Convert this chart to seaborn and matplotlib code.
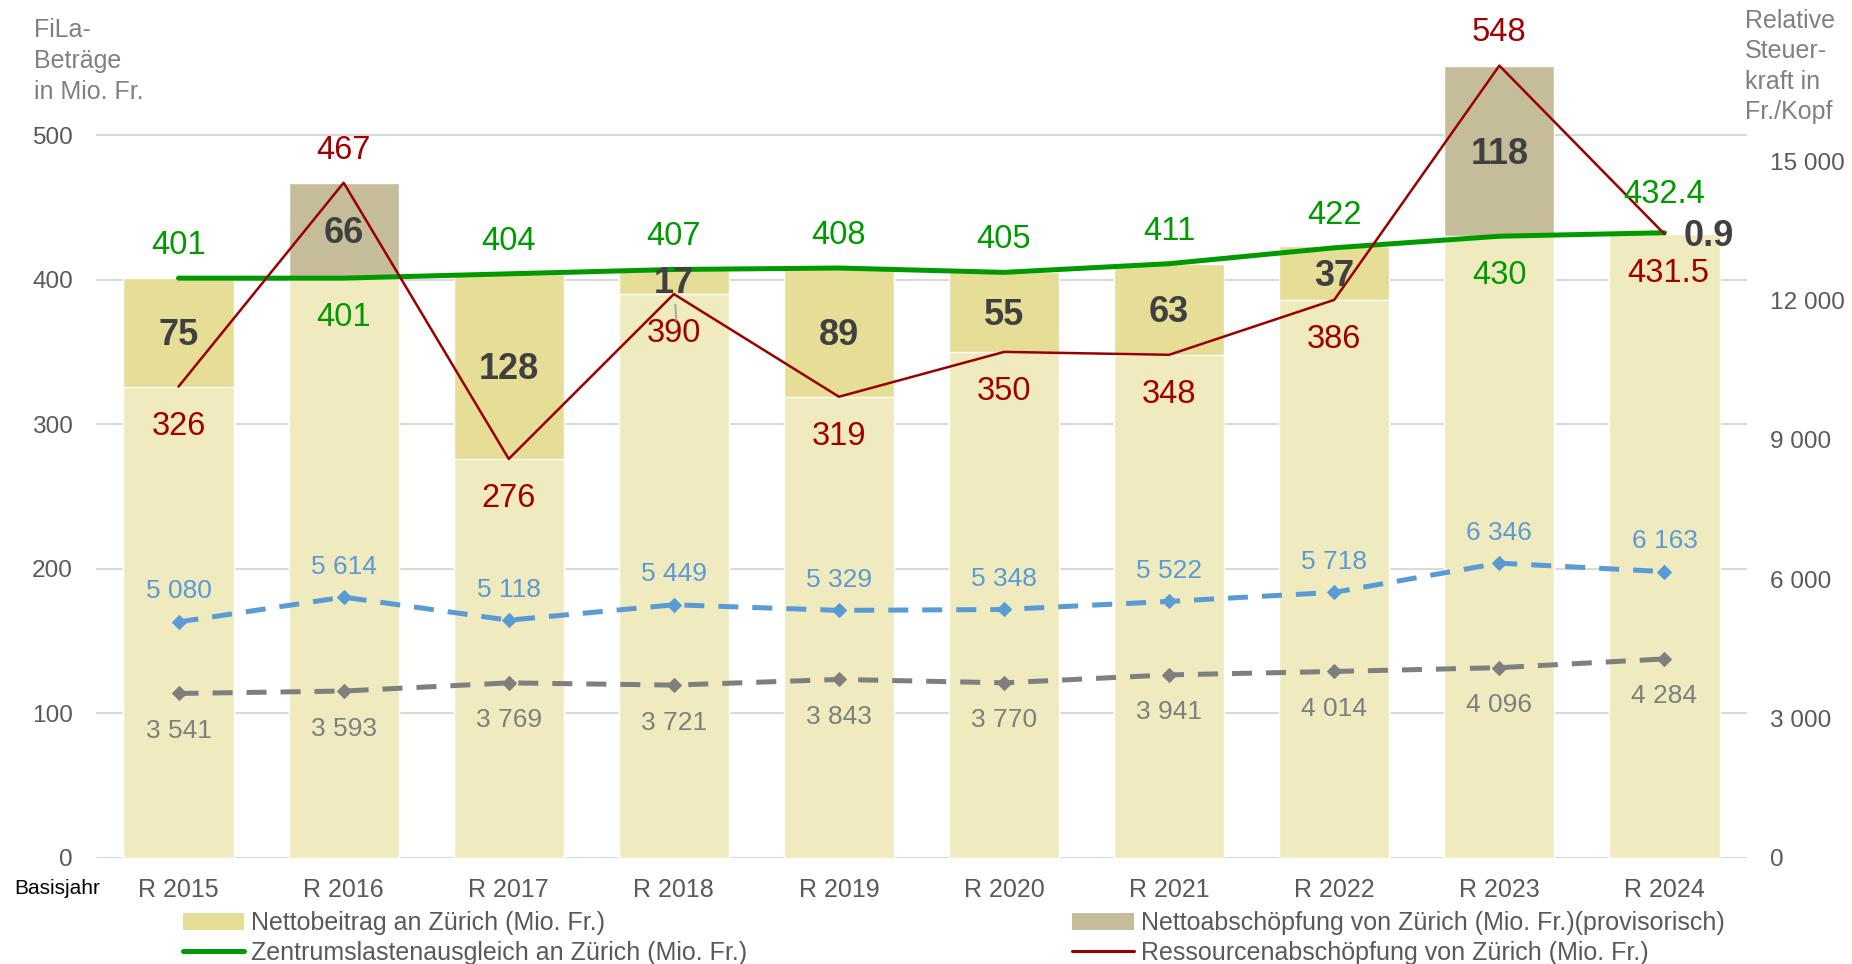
import numpy as np
import matplotlib
matplotlib.use("Agg")
import matplotlib.pyplot as plt
import seaborn as sns
from matplotlib.patches import Patch
from matplotlib.lines import Line2D

# ---------------- data ----------------
years = ["R 2015", "R 2016", "R 2017", "R 2018", "R 2019",
         "R 2020", "R 2021", "R 2022", "R 2023", "R 2024"]
zentrumslasten = [401, 401, 404, 407, 408, 405, 411, 422, 430, 432.4]
ressourcen = [326, 467, 276, 390, 319, 350, 348, 386, 548, 431.5]
nettobeitrag = [75, 0, 128, 17, 89, 55, 63, 37, 0, 0]
nettoabschoepfung = [0, 66, 0, 0, 0, 0, 0, 0, 118, 0.9]
steuerkraft_blau = [5080, 5614, 5118, 5449, 5329, 5348, 5522, 5718, 6346, 6163]
steuerkraft_grau = [3541, 3593, 3769, 3721, 3843, 3770, 3941, 4014, 4096, 4284]
left_ticks = [0, 100, 200, 300, 400, 500]
right_ticks = [0, 3000, 6000, 9000, 12000, 15000]

# ---------------- style ----------------
sns.set_theme(style="white")
plt.rcParams["font.family"] = ["Liberation Sans", "DejaVu Sans"]

C_LIGHT = "#F0EBBE"
C_BEITRAG = "#E6DE96"
C_ABSCH = "#C5BD99"
C_GREEN = "#009A00"
C_RED = "#990000"
C_RED_T = "#A00000"
C_BLUE = "#5B9BD5"
C_GRAY = "#7F7F7F"
C_DARK = "#404040"
C_TICK = "#595959"

FS_TICK = 17.6
FS_CAT = 18
FS_VAL = 23.5
FS_BOLD = 26
FS_SMALL = 19
FS_TITLE = 18
FS_LEG = 18

W, H = 1852, 964
fig = plt.figure(figsize=(W / 100, H / 100), dpi=100, facecolor="white")
y0, ytop = 858, 62.7
ax = fig.add_axes([96 / W, 1 - y0 / H, (1747 - 96) / W, (y0 - ytop) / H])
ax2 = ax.twinx()

idx = np.arange(len(years))
zla = np.array(zentrumslasten, dtype=float)
ra = np.array(ressourcen, dtype=float)
nb = np.array(nettobeitrag, dtype=float)
na = np.array(nettoabschoepfung, dtype=float)
base = np.minimum(zla, ra)
top = base + nb + na
seg_colors = [C_BEITRAG if b > 0 else C_ABSCH for b in nb]

ax.set_axisbelow(True)
ax.yaxis.grid(True, color="#D9D9D9", lw=1.5)
ax.xaxis.grid(False)

# stacked bars: full height first (segment colour), then base on top
sns.barplot(x=years, y=top, hue=years, palette=seg_colors, legend=False,
            width=0.667, saturation=1, ax=ax, zorder=2)
sns.barplot(x=years, y=base, color=C_LIGHT, width=0.667, saturation=1,
            ax=ax, zorder=2)

# lines on left axis
sns.lineplot(x=idx, y=zla, ax=ax, color=C_GREEN, lw=3.6, zorder=4)
sns.lineplot(x=idx, y=ra, ax=ax, color=C_RED, lw=1.8, zorder=4)
for ln in ax.get_lines():
    ln.set_solid_joinstyle("round")
    ln.set_solid_capstyle("round")

# dashed lines on right axis
for vals, col in [(steuerkraft_blau, C_BLUE), (steuerkraft_grau, C_GRAY)]:
    sns.lineplot(x=idx, y=vals, ax=ax2, color=col, lw=3.6, marker="D",
                 markersize=7.5, markeredgecolor=col, markerfacecolor=col, zorder=5)
    ln = ax2.get_lines()[-1]
    ln.set_dashes([4, 2.8])
    ln.set_dash_capstyle("butt")

ax.set_xlim(-0.5, len(years) - 0.5)
ax.set_ylim(0, 550)
ax2.set_ylim(0, (y0 - ytop) / (697 / 15000))
ax.set_yticks(left_ticks)
ax.set_yticklabels([str(t) for t in left_ticks])
ax2.set_yticks(right_ticks)
ax2.set_yticklabels([f"{t:,}".replace(",", " ") for t in right_ticks])
ax.set_xticks(idx)
ax.set_xticklabels(years)
ax.set_xlabel("")
ax.set_ylabel("")
ax2.set_ylabel("")
for a in (ax, ax2):
    for s in a.spines.values():
        s.set_visible(False)
ax.tick_params(axis="y", length=0, pad=16.6, labelsize=FS_TICK, labelcolor=C_TICK)
ax2.tick_params(axis="y", length=0, pad=16.6, labelsize=FS_TICK, labelcolor=C_TICK)
ax.tick_params(axis="x", length=0, pad=14.5, labelsize=FS_CAT, labelcolor=C_TICK)
ax.axhline(0, color="#D9D9D9", lw=1.5, zorder=1)

# ---------------- labels ----------------
fmt = lambda v: f"{v:g}"
for i in idx:
    g_up = zla[i] >= ra[i]
    gdy = 23.5 if g_up else -28
    if i == len(years) - 1:
        gdy = 27.5
    ax.annotate(fmt(zla[i]), xy=(i, zla[i]), xytext=(0, gdy), textcoords="offset points",
                ha="center", va="center", fontsize=FS_VAL, color=C_GREEN, zorder=6)
    rdy = -28.5 if g_up else 23.5
    rdx = 3 if i == len(years) - 1 else 0
    ax.annotate(fmt(ra[i]), xy=(i, ra[i]), xytext=(rdx, rdy), textcoords="offset points",
                ha="center", va="center", fontsize=FS_VAL, color=C_RED_T, zorder=6)
    seg = nb[i] + na[i]
    if seg >= 5:
        mid = base[i] + seg / 2
        if seg < 20:
            # small segment: label with a thin leader line
            ax.annotate(fmt(seg), xy=(i + 0.015, base[i] - 18), xytext=(i, mid - 1.5),
                        textcoords="data", ha="center", va="center",
                        fontsize=FS_BOLD, fontweight="bold", color=C_DARK, zorder=6,
                        arrowprops=dict(arrowstyle="-", color="#A6A6A6", lw=1.4,
                                        shrinkA=0, shrinkB=0))
        else:
            ax.annotate(fmt(seg), xy=(i, mid), xytext=(0, -2.5), textcoords="offset points",
                        ha="center", va="center", fontsize=FS_BOLD,
                        fontweight="bold", color=C_DARK, zorder=6)
    else:
        ax.annotate(fmt(seg), xy=(i, top[i]), xytext=(32, -3), textcoords="offset points",
                    ha="center", va="center", fontsize=FS_BOLD, fontweight="bold",
                    color=C_DARK, zorder=6)

for i in idx:
    ax2.annotate(f"{steuerkraft_blau[i]:,}".replace(",", " "), xy=(i, steuerkraft_blau[i]),
                 xytext=(0, 22), textcoords="offset points", ha="center", va="center",
                 fontsize=FS_SMALL, color=C_BLUE, zorder=6)
    ax2.annotate(f"{steuerkraft_grau[i]:,}".replace(",", " "), xy=(i, steuerkraft_grau[i]),
                 xytext=(0, -27), textcoords="offset points", ha="center", va="center",
                 fontsize=FS_SMALL, color=C_GRAY, zorder=6)

# axis titles
fig.text(34 / W, 1 - 18 / H, "FiLa-\nBeträge\nin Mio. Fr.", ha="left", va="top",
         fontsize=FS_TITLE, color="#808080", linespacing=1.37)
fig.text(1745 / W, 1 - 9 / H, "Relative\nSteuer-\nkraft in\nFr./Kopf", ha="left", va="top",
         fontsize=FS_TITLE, color="#808080", linespacing=1.33)
fig.text(14 / W, 1 - 889 / H, "Basisjahr", ha="left", va="center", fontsize=15, color="black")

# legend
handles = [Patch(facecolor=C_BEITRAG, edgecolor="none"),
           Line2D([], [], color=C_GREEN, lw=3.6, solid_capstyle="round"),
           Patch(facecolor=C_ABSCH, edgecolor="none"),
           Line2D([], [], color=C_RED, lw=2.2)]
labels = ["Nettobeitrag an Zürich (Mio. Fr.)",
          "Zentrumslastenausgleich an Zürich (Mio. Fr.)",
          "Nettoabschöpfung von Zürich (Mio. Fr.)(provisorisch)",
          "Ressourcenabschöpfung von Zürich (Mio. Fr.)"]
leg = fig.legend(handles, labels, ncol=2, loc="upper left",
                 bbox_to_anchor=(183 / W, 1 - 911 / H), frameon=False, fontsize=FS_LEG,
                 handlelength=2.45, handletextpad=0.28, columnspacing=13.0,
                 labelspacing=0.23, borderpad=0, borderaxespad=0)
for t in leg.get_texts():
    t.set_color(C_TICK)

fig.savefig("out.png", dpi=100, facecolor="white")
